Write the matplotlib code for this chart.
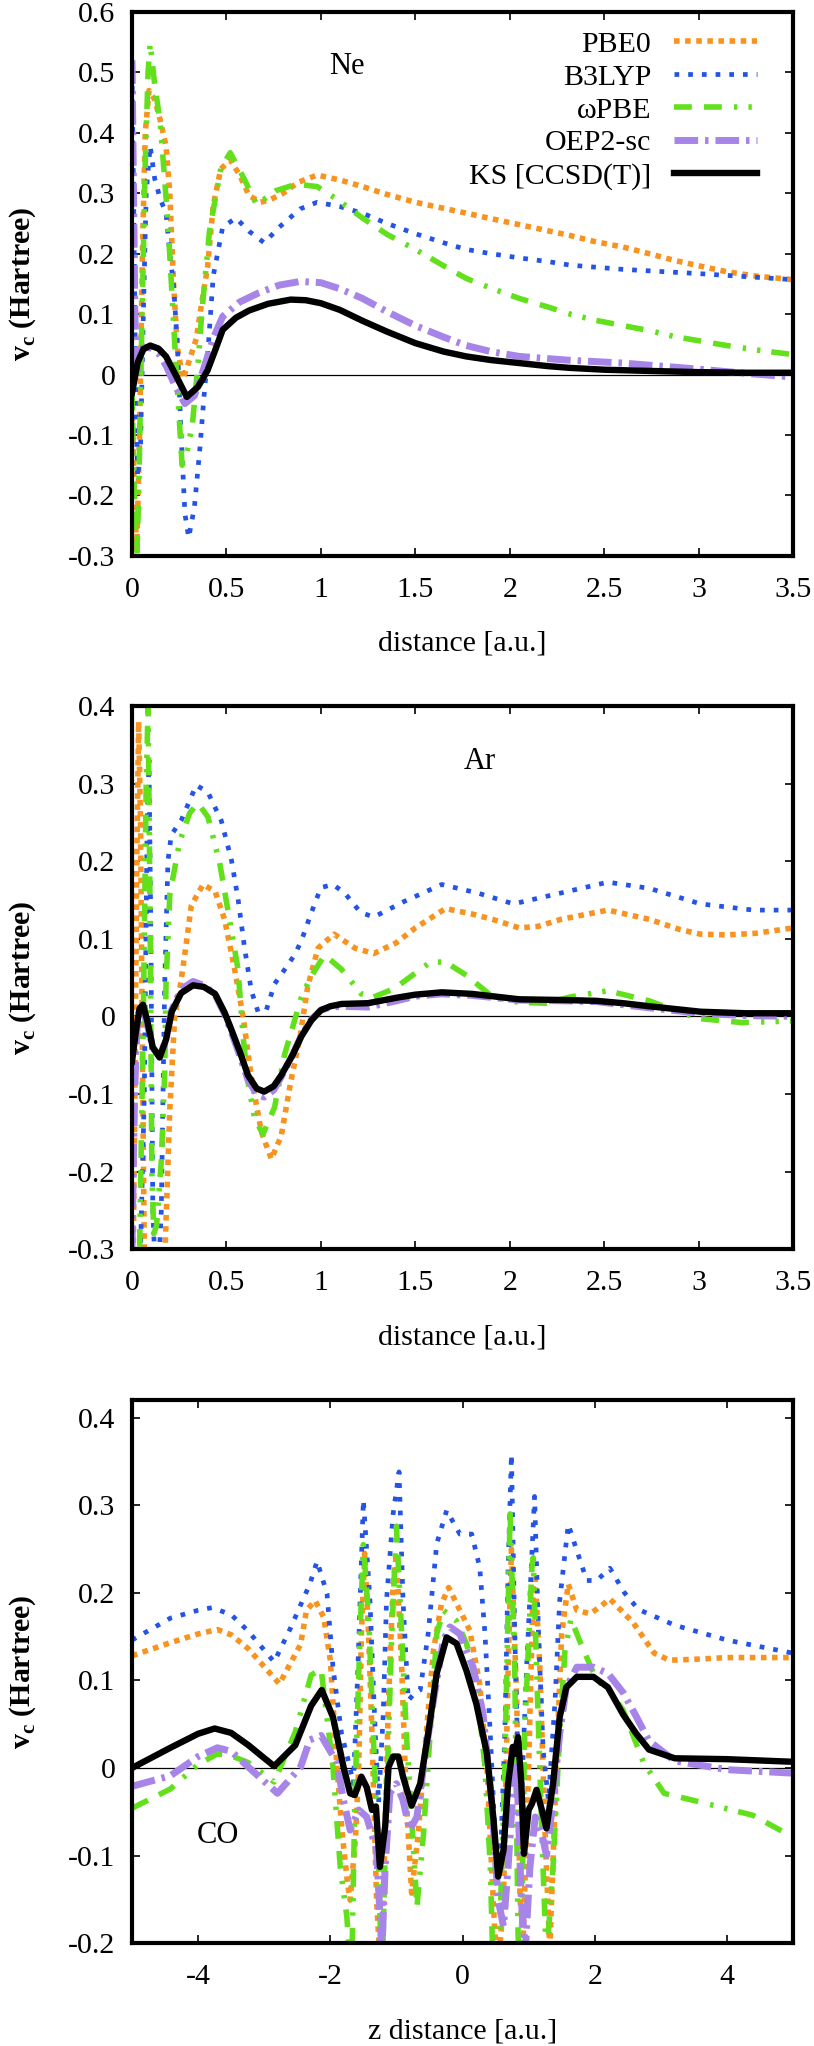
import matplotlib
matplotlib.use('Agg')

import matplotlib.pyplot as plt
from matplotlib.ticker import MultipleLocator, FuncFormatter

plt.rcParams['font.family'] = ['Liberation Serif', 'DejaVu Serif']
plt.rcParams['mathtext.fontset'] = 'custom'
plt.rcParams['mathtext.rm'] = 'Liberation Serif'
plt.rcParams['mathtext.bf'] = 'Liberation Serif:bold'
plt.rcParams['axes.unicode_minus'] = False

labels = ['PBE0', 'B3LYP', '\u03c9PBE', 'OEP2-sc', 'KS [CCSD(T)]']

# ---- Ne ----
ne_ks_x = [0.0, 0.03, 0.06, 0.096, 0.14, 0.18, 0.23, 0.29, 0.35, 0.40,
           0.44, 0.48, 0.55, 0.62, 0.72, 0.84, 0.92, 1.0, 1.1, 1.22,
           1.35, 1.5, 1.65, 1.77, 1.9, 2.05, 2.2, 2.32, 2.5, 2.74,
           3.0, 3.25, 3.5]
ne_ks_y = [-0.03, 0.02, 0.042, 0.048, 0.043, 0.03, 0.0, -0.037, -0.02, 0.007,
           0.04, 0.074, 0.094, 0.106, 0.117, 0.124, 0.123, 0.118, 0.107, 0.089,
           0.071, 0.052, 0.038, 0.030, 0.024, 0.019, 0.014, 0.011, 0.008, 0.006,
           0.004, 0.003, 0.003]
ne_oep_x = [0.0, 0.008, 0.015, 0.025, 0.04, 0.07, 0.1, 0.14, 0.18, 0.23,
            0.28, 0.33, 0.38, 0.43, 0.48, 0.57, 0.67, 0.78, 0.89, 1.0,
            1.1, 1.22, 1.35, 1.5, 1.65, 1.77, 1.9, 2.05, 2.3, 2.6,
            3.0, 3.25, 3.5]
ne_oep_y = [0.52, 0.3, 0.1, 0.0, 0.035, 0.045, 0.044, 0.035, 0.015, -0.02,
            -0.048, -0.035, 0.01, 0.06, 0.096, 0.12, 0.135, 0.148, 0.154, 0.152,
            0.142, 0.126, 0.104, 0.081, 0.062, 0.048, 0.038, 0.030, 0.024, 0.019,
            0.009, 0.002, -0.004]
ne_pbe0_x = [0.0, 0.012, 0.025, 0.04, 0.055, 0.07, 0.09, 0.12, 0.15, 0.18,
             0.2, 0.22, 0.24, 0.27, 0.3, 0.34, 0.37, 0.4, 0.43, 0.47,
             0.52, 0.57, 0.62, 0.68, 0.73, 0.8, 0.88, 0.98, 1.1, 1.22,
             1.35, 1.5, 1.65, 1.77, 1.9, 2.05, 2.2, 2.32, 2.45, 2.6,
             2.75, 2.87, 3.0, 3.15, 3.3, 3.5]
ne_pbe0_y = [-0.05, -0.2, -0.29, -0.1, 0.2, 0.4, 0.47, 0.455, 0.42, 0.378,
             0.3, 0.15, 0.044, -0.007, 0.02, 0.059, 0.12, 0.178, 0.28, 0.34,
             0.355, 0.33, 0.296, 0.285, 0.289, 0.30, 0.318, 0.33, 0.322, 0.311,
             0.298, 0.285, 0.275, 0.267, 0.258, 0.248, 0.238, 0.23, 0.22, 0.211,
             0.199, 0.189, 0.18, 0.17, 0.163, 0.157]
ne_b3lyp_x = [0.0, 0.01, 0.02, 0.03, 0.045, 0.06, 0.075, 0.096, 0.12, 0.15,
              0.18, 0.2, 0.22, 0.24, 0.26, 0.28, 0.3, 0.33, 0.36, 0.38,
              0.4, 0.43, 0.48, 0.55, 0.62, 0.7, 0.78, 0.89, 0.98, 1.1,
              1.22, 1.35, 1.5, 1.65, 1.77, 1.9, 2.05, 2.2, 2.32, 2.6,
              3.0, 3.25, 3.5]
ne_b3lyp_y = [0.5, 0.25, -0.05, -0.17, -0.12, 0.1, 0.3, 0.378, 0.324, 0.29,
              0.267, 0.2, 0.148, 0.05, -0.1, -0.23, -0.27, -0.22, -0.12, -0.04,
              0.03, 0.163, 0.244, 0.259, 0.237, 0.218, 0.244, 0.274, 0.285, 0.278,
              0.267, 0.25, 0.233, 0.218, 0.207, 0.2, 0.193, 0.187, 0.181, 0.174,
              0.167, 0.162, 0.157]
ne_wpbe_x = [0.0, 0.012, 0.025, 0.035, 0.05, 0.07, 0.085, 0.096, 0.12, 0.15,
             0.19, 0.23, 0.265, 0.29, 0.32, 0.35, 0.37, 0.41, 0.47, 0.52,
             0.59, 0.66, 0.76, 0.87, 0.98, 1.09, 1.22, 1.35, 1.5, 1.65,
             1.77, 1.9, 2.05, 2.2, 2.32, 2.45, 2.6, 2.75, 2.87, 3.0,
             3.15, 3.3, 3.5]
ne_wpbe_y = [-0.03, -0.2, -0.31, -0.2, 0.05, 0.35, 0.5, 0.548, 0.48, 0.415,
             0.252, 0.03, -0.15, -0.13, -0.081, 0.02, 0.104, 0.237, 0.341, 0.367,
             0.326, 0.281, 0.304, 0.315, 0.311, 0.289, 0.259, 0.232, 0.207, 0.18,
             0.159, 0.143, 0.126, 0.112, 0.1, 0.09, 0.081, 0.072, 0.063, 0.056,
             0.048, 0.041, 0.033]

# ---- Ar ----
ar_ks_x = [0.0, 0.02, 0.04, 0.058, 0.08, 0.11, 0.146, 0.18, 0.21, 0.26,
           0.323, 0.38, 0.44, 0.49, 0.526, 0.57, 0.614, 0.66, 0.7, 0.75,
           0.79, 0.85, 0.896, 0.95, 1.0, 1.05, 1.11, 1.25, 1.4, 1.5,
           1.64, 1.8, 2.05, 2.3, 2.46, 2.6, 2.74, 3.01, 3.25, 3.5]
ar_ks_y = [-0.058, -0.02, 0.01, 0.015, -0.005, -0.04, -0.053, -0.03, 0.006, 0.03,
           0.04, 0.038, 0.029, 0.005, -0.017, -0.045, -0.076, -0.093, -0.097, -0.09,
           -0.076, -0.05, -0.026, -0.005, 0.008, 0.013, 0.016, 0.017, 0.024, 0.028,
           0.031, 0.029, 0.022, 0.021, 0.02, 0.017, 0.013, 0.006, 0.004, 0.004]
ar_oep_x = [0.0, 0.005, 0.012, 0.02, 0.03, 0.045, 0.06, 0.08, 0.11, 0.146,
            0.18, 0.21, 0.26, 0.323, 0.38, 0.44, 0.49, 0.526, 0.57, 0.614,
            0.66, 0.7, 0.75, 0.79, 0.85, 0.896, 0.95, 1.0, 1.05, 1.11,
            1.25, 1.4, 1.5, 1.64, 1.8, 2.05, 2.3, 2.46, 2.6, 2.74,
            3.01, 3.25, 3.5]
ar_oep_y = [-0.3, -0.22, -0.12, -0.05, 0.0, 0.012, 0.01, -0.01, -0.04, -0.052,
            -0.03, 0.008, 0.035, 0.045, 0.04, 0.028, 0.003, -0.02, -0.05, -0.082,
            -0.1, -0.104, -0.095, -0.078, -0.05, -0.025, -0.004, 0.008, 0.012, 0.013,
            0.012, 0.02, 0.026, 0.029, 0.027, 0.021, 0.02, 0.019, 0.015, 0.011,
            0.004, 0.001, 0.0]
ar_pbe0_x = [0.0, 0.015, 0.025, 0.035, 0.045, 0.055, 0.065, 0.09, 0.12, 0.15,
             0.175, 0.2, 0.226, 0.25, 0.279, 0.314, 0.376, 0.44, 0.49, 0.54,
             0.59, 0.63, 0.685, 0.738, 0.79, 0.84, 0.89, 0.93, 0.985, 1.07,
             1.18, 1.28, 1.4, 1.5, 1.66, 1.8, 1.91, 2.05, 2.15, 2.27,
             2.52, 2.74, 2.9, 3.01, 3.15, 3.3, 3.5]
ar_pbe0_y = [-0.45, -0.1, 0.2, 0.38, 0.25, -0.05, -0.3, -0.45, -0.5, -0.42,
             -0.3, -0.12, 0.0, 0.03, 0.079, 0.143, 0.17, 0.161, 0.125, 0.065,
             -0.003, -0.076, -0.149, -0.184, -0.154, -0.085, -0.026, 0.038, 0.088, 0.106,
             0.088, 0.081, 0.095, 0.114, 0.139, 0.132, 0.125, 0.114, 0.116, 0.125,
             0.137, 0.125, 0.112, 0.106, 0.105, 0.107, 0.114]
ar_b3lyp_x = [0.0, 0.04, 0.065, 0.08, 0.09, 0.1, 0.11, 0.125, 0.14, 0.155,
              0.164, 0.173, 0.19, 0.208, 0.261, 0.34, 0.402, 0.473, 0.526, 0.561,
              0.596, 0.632, 0.667, 0.711, 0.755, 0.81, 0.86, 0.896, 0.95, 1.0,
              1.064, 1.126, 1.21, 1.28, 1.44, 1.64, 1.83, 2.02, 2.27, 2.52,
              2.74, 3.01, 3.29, 3.5]
ar_b3lyp_y = [-0.45, -0.35, -0.1, 0.25, 0.33, 0.1, -0.25, -0.34, -0.33, -0.25,
              -0.1, 0.042, 0.2, 0.234, 0.253, 0.298, 0.289, 0.252, 0.202, 0.152,
              0.088, 0.033, 0.006, 0.008, 0.042, 0.061, 0.079, 0.097, 0.134, 0.166,
              0.17, 0.159, 0.134, 0.128, 0.148, 0.17, 0.159, 0.145, 0.159, 0.173,
              0.165, 0.145, 0.137, 0.137]
ar_wpbe_x = [0.0, 0.04, 0.06, 0.075, 0.085, 0.095, 0.105, 0.115, 0.13, 0.155,
             0.173, 0.18, 0.2, 0.252, 0.305, 0.349, 0.402, 0.464, 0.526, 0.561,
             0.588, 0.614, 0.649, 0.693, 0.755, 0.808, 0.896, 0.949, 1.02, 1.108,
             1.214, 1.28, 1.39, 1.58, 1.66, 1.77, 1.91, 2.05, 2.19, 2.32,
             2.52, 2.74, 2.9, 3.01, 3.23, 3.5]
ar_wpbe_y = [-0.45, -0.3, 0.0, 0.3, 0.4, 0.15, -0.2, -0.28, -0.27, -0.186,
             -0.072, 0.042, 0.157, 0.225, 0.262, 0.275, 0.257, 0.198, 0.111, 0.061,
             -0.026, -0.085, -0.131, -0.152, -0.117, -0.049, 0.024, 0.052, 0.079, 0.061,
             0.029, 0.025, 0.036, 0.07, 0.07, 0.053, 0.025, 0.018, 0.017, 0.025,
             0.033, 0.02, 0.005, -0.003, -0.008, -0.006]

# ---- CO ----
co_ks_x = [-5.0, -4.42, -4.0, -3.75, -3.5, -3.24, -2.85, -2.53, -2.29, -2.13,
           -1.96, -1.8, -1.7, -1.63, -1.53, -1.45, -1.37, -1.31, -1.25, -1.17,
           -1.12, -1.05, -0.97, -0.9, -0.77, -0.64, -0.52, -0.39, -0.24, -0.09,
           0.06, 0.21, 0.37, 0.47, 0.54, 0.62, 0.69, 0.76, 0.79, 0.84,
           0.89, 0.93, 1.0, 1.05, 1.12, 1.2, 1.27, 1.37, 1.47, 1.57,
           1.73, 1.98, 2.2, 2.43, 2.62, 2.82, 3.21, 4.0, 5.0]
co_ks_y = [0.0, 0.023, 0.039, 0.045, 0.04, 0.026, 0.002, 0.026, 0.071, 0.089,
           0.058, 0.001, -0.029, -0.031, -0.01, -0.022, -0.048, -0.044, -0.113, -0.067,
           0.001, 0.013, 0.013, -0.01, -0.043, -0.018, 0.039, 0.108, 0.149, 0.142,
           0.111, 0.073, 0.016, -0.06, -0.124, -0.094, -0.018, 0.024, 0.016, 0.035,
           -0.018, -0.098, -0.048, -0.041, -0.025, -0.048, -0.069, -0.018, 0.058, 0.092,
           0.104, 0.104, 0.092, 0.061, 0.04, 0.021, 0.011, 0.01, 0.007]
co_oep_x = [-5.0, -4.42, -4.0, -3.71, -3.5, -3.24, -2.8, -2.45, -2.31, -2.14,
            -1.9, -1.8, -1.7, -1.57, -1.45, -1.3, -1.22, -1.17, -1.1, -1.0,
            -0.9, -0.8, -0.69, -0.59, -0.44, -0.29, -0.19, -0.04, 0.16, 0.31,
            0.44, 0.54, 0.62, 0.69, 0.77, 0.82, 0.89, 0.95, 1.02, 1.1,
            1.2, 1.27, 1.37, 1.47, 1.57, 1.73, 1.98, 2.2, 2.43, 2.62,
            2.82, 3.21, 4.0, 5.0]
co_oep_y = [-0.021, -0.009, 0.013, 0.023, 0.019, 0.001, -0.029, 0.001, 0.032, 0.037,
            0.006, -0.037, -0.071, -0.048, -0.056, -0.094, -0.21, -0.113, -0.029, -0.018,
            -0.037, -0.071, -0.056, 0.001, 0.077, 0.146, 0.161, 0.153, 0.115, 0.062,
            -0.037, -0.151, -0.181, -0.113, -0.018, 0.005, -0.151, -0.21, -0.113, -0.056,
            -0.075, -0.1, -0.037, 0.039, 0.092, 0.115, 0.115, 0.108, 0.086, 0.06,
            0.031, 0.008, -0.002, -0.006]
co_pbe0_x = [-5.0, -4.42, -4.0, -3.71, -3.5, -3.24, -2.77, -2.45, -2.36, -2.23,
             -2.1, -2.0, -1.9, -1.82, -1.74, -1.7, -1.62, -1.57, -1.53, -1.48,
             -1.42, -1.37, -1.3, -1.25, -1.2, -1.12, -1.05, -1.0, -0.92, -0.85,
             -0.77, -0.67, -0.57, -0.44, -0.32, -0.21, -0.04, 0.11, 0.26, 0.37,
             0.44, 0.49, 0.55, 0.62, 0.69, 0.74, 0.82, 0.87, 0.92, 1.0,
             1.07, 1.1, 1.17, 1.25, 1.32, 1.42, 1.5, 1.6, 1.73, 1.93,
             2.08, 2.23, 2.58, 2.9, 3.13, 3.5, 4.0, 5.0]
co_pbe0_y = [0.128, 0.143, 0.153, 0.158, 0.152, 0.136, 0.096, 0.141, 0.18, 0.191,
             0.172, 0.123, 0.001, -0.075, -0.132, -0.151, -0.08, 0.001, 0.153, 0.245,
             0.15, 0.039, -0.151, -0.22, -0.151, 0.077, 0.21, 0.245, 0.115, -0.037,
             -0.143, -0.075, 0.02, 0.134, 0.187, 0.206, 0.18, 0.157, 0.096, 0.001,
             -0.113, -0.19, -0.22, -0.151, 0.115, 0.25, 0.077, -0.151, -0.19, 0.001,
             0.21, 0.216, 0.115, -0.075, -0.21, 0.001, 0.153, 0.21, 0.18, 0.176,
             0.184, 0.193, 0.166, 0.131, 0.123, 0.124, 0.126, 0.126]
co_b3lyp_x = [-5.0, -4.42, -4.0, -3.79, -3.5, -3.24, -2.85, -2.6, -2.45, -2.31,
              -2.2, -2.05, -1.96, -1.83, -1.73, -1.65, -1.58, -1.5, -1.4, -1.32,
              -1.27, -1.2, -1.15, -1.05, -0.96, -0.9, -0.82, -0.72, -0.64, -0.52,
              -0.39, -0.24, -0.04, 0.14, 0.26, 0.34, 0.42, 0.49, 0.57, 0.64,
              0.69, 0.74, 0.79, 0.84, 0.89, 0.97, 1.09, 1.15, 1.22, 1.3,
              1.4, 1.47, 1.6, 1.73, 1.88, 2.03, 2.23, 2.45, 2.66, 3.21,
              4.0, 5.0]
co_b3lyp_y = [0.146, 0.171, 0.18, 0.183, 0.175, 0.156, 0.121, 0.16, 0.186, 0.21,
              0.236, 0.199, 0.115, 0.039, 0.009, -0.018, 0.12, 0.306, 0.191, 0.039,
              -0.04, 0.06, 0.191, 0.29, 0.338, 0.191, 0.077, 0.086, 0.089, 0.153,
              0.256, 0.294, 0.267, 0.267, 0.229, 0.153, 0.039, -0.075, -0.113, 0.039,
              0.229, 0.358, 0.153, 0.001, -0.037, 0.115, 0.31, 0.153, 0.02, -0.037,
              0.077, 0.191, 0.278, 0.248, 0.214, 0.214, 0.228, 0.2, 0.181, 0.163,
              0.146, 0.131]
co_wpbe_x = [-5.0, -4.42, -4.0, -3.71, -3.5, -3.24, -2.85, -2.53, -2.29, -2.14,
             -1.96, -1.85, -1.75, -1.68, -1.63, -1.55, -1.5, -1.42, -1.35, -1.27,
             -1.22, -1.15, -1.07, -1.0, -0.92, -0.85, -0.74, -0.69, -0.59, -0.49,
             -0.39, -0.29, -0.09, 0.06, 0.21, 0.34, 0.42, 0.47, 0.55, 0.64,
             0.72, 0.79, 0.84, 0.88, 0.94, 1.05, 1.07, 1.12, 1.2, 1.27,
             1.37, 1.47, 1.55, 1.64, 1.8, 2.03, 2.2, 2.43, 2.74, 3.05,
             3.6, 4.39, 5.0]
co_wpbe_y = [-0.046, -0.024, 0.004, 0.016, 0.014, 0.006, -0.016, 0.041, 0.106, 0.113,
             0.001, -0.113, -0.17, -0.25, -0.037, 0.153, 0.255, 0.172, 0.039, -0.113,
             -0.25, -0.037, 0.153, 0.276, 0.153, 0.039, -0.094, -0.159, -0.075, 0.039,
             0.153, 0.18, 0.168, 0.142, 0.096, 0.001, -0.113, -0.25, -0.22, 0.001,
             0.29, 0.115, -0.19, -0.25, 0.039, 0.229, 0.24, 0.115, -0.075, -0.22,
             -0.113, 0.039, 0.134, 0.17, 0.14, 0.1, 0.09, 0.066, 0.006, -0.029,
             -0.039, -0.054, -0.079]

# colour, linewidth, dash pattern for PBE0, B3LYP, wPBE, OEP2-sc, KS
styles = [
    ('#f7931e', 4.0, (0, (1, 1.0))),
    ('#2453e6', 3.4, (0, (1, 1.9))),
    ('#62e01c', 4.0, (0, (3.2, 2.2, 3.2, 2.2, 0.6, 2.0, 0.6, 2.0))),
    ('#a784e8', 5.0, (0, (3.4, 1.0, 0.5, 1.0))),
    ('black', 4.6, '-'),
]

fs = 21.5


def fmt(v, pos):
    return f'{round(v, 3) + 0.0:g}'


def setup(ax, xlim, ylim, xstep, xlabel):
    ax.set_xlim(*xlim)
    ax.set_ylim(*ylim)
    ax.xaxis.set_major_locator(MultipleLocator(xstep))
    ax.yaxis.set_major_locator(MultipleLocator(0.1))
    ax.xaxis.set_major_formatter(FuncFormatter(fmt))
    ax.yaxis.set_major_formatter(FuncFormatter(fmt))
    ax.tick_params(direction='in', top=True, right=True, length=6, width=1.2,
                   labelsize=fs)
    ax.tick_params(axis='x', pad=15)
    ax.tick_params(axis='y', pad=12)
    for s in ax.spines.values():
        s.set_linewidth(3)
    ax.axhline(0, color='black', lw=0.9, zorder=1.5)
    ax.set_xlabel(xlabel, fontsize=fs)
    ax.xaxis.set_label_coords(0.5, -0.138)
    ax.set_ylabel(r'v$_{\mathbf{c}}$ (Hartree)', fontsize=21.5, fontweight='bold')
    ax.yaxis.set_label_coords(-0.143, 0.5)


def draw(ax, xs, ys):
    for (x, y), (c, lw, ls), lab in zip(zip(xs, ys), styles, labels):
        ax.plot(x, y, color=c, lw=lw, linestyle=ls, label=lab, zorder=2)


fig = plt.figure(figsize=(8.14, 20.46), dpi=100)
ax1 = fig.add_axes([0.1622, 0.7283, 0.8120, 0.2659])
ax2 = fig.add_axes([0.1622, 0.3895, 0.8120, 0.2654])
ax3 = fig.add_axes([0.1622, 0.0503, 0.8120, 0.2654])

draw(ax1, [ne_pbe0_x, ne_b3lyp_x, ne_wpbe_x, ne_oep_x, ne_ks_x],
     [ne_pbe0_y, ne_b3lyp_y, ne_wpbe_y, ne_oep_y, ne_ks_y])
setup(ax1, (0, 3.5), (-0.3, 0.6), 0.5, 'distance [a.u.]')
ax1.text(1.14, 0.51, 'Ne', fontsize=22, ha='center', va='center')
ax1.legend(loc='upper right', bbox_to_anchor=(0.946, 0.965), frameon=False,
           markerfirst=False, fontsize=fs, handlelength=2.8, handletextpad=0.75,
           labelspacing=0.2, borderpad=0, borderaxespad=0)

draw(ax2, [ar_pbe0_x, ar_b3lyp_x, ar_wpbe_x, ar_oep_x, ar_ks_x],
     [ar_pbe0_y, ar_b3lyp_y, ar_wpbe_y, ar_oep_y, ar_ks_y])
setup(ax2, (0, 3.5), (-0.3, 0.4), 0.5, 'distance [a.u.]')
ax2.text(1.84, 0.328, 'Ar', fontsize=22, ha='center', va='center')

draw(ax3, [co_pbe0_x, co_b3lyp_x, co_wpbe_x, co_oep_x, co_ks_x],
     [co_pbe0_y, co_b3lyp_y, co_wpbe_y, co_oep_y, co_ks_y])
setup(ax3, (-5, 5), (-0.2, 0.42), 2, 'z distance [a.u.]')
ax3.text(-3.7, -0.077, 'CO', fontsize=22, ha='center', va='center')

fig.savefig('out.png', dpi=100)
